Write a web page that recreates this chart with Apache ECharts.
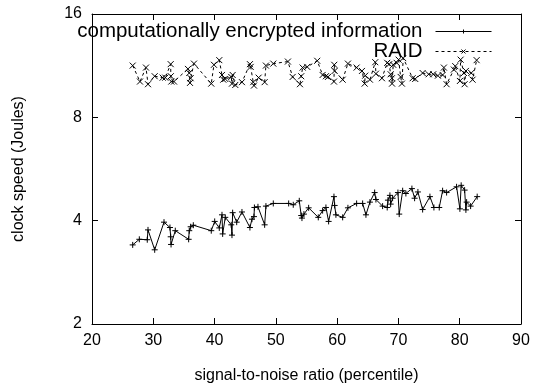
<!DOCTYPE html>
<html>
<head>
<meta charset="utf-8">
<script src="https://cdn.jsdelivr.net/npm/echarts@6/dist/echarts.min.js"></script>
<style>
  html, body { margin: 0; padding: 0; background: #fff; }
  #chart { width: 536px; height: 389px; }
</style>
</head>
<body>
<div id="chart"></div>
<script>
// series names
const seriesNames = ["computationally encrypted information", "RAID"];

// computationally encrypted information: [snr, clock speed]
const encrypted = [
  [26.64, 3.40], [27.72, 3.53], [29.02, 3.52], [29.14, 3.76], [30.23, 3.29], [31.75, 3.96],
  [32.72, 3.82], [32.84, 3.59], [32.9, 3.41], [33.59, 3.74], [35.77, 3.53], [35.87, 3.74],
  [36.10, 3.84], [36.53, 3.88], [39.46, 3.74], [40.02, 3.98], [40.77, 3.81], [41.21, 4.16],
  [41.32, 3.66], [41.75, 4.09], [42.72, 3.89], [42.84, 3.63], [42.95, 4.22], [43.61, 3.96],
  [44.47, 4.24], [45.77, 3.82], [46.10, 4.04], [46.43, 4.11], [46.5, 4.37], [47.08, 4.39],
  [48.17, 3.89], [48.38, 4.41], [49.58, 4.49], [52.09, 4.49], [52.84, 4.45], [53.82, 4.57],
  [54.14, 4.14], [54.26, 4.07], [54.58, 4.18], [55.35, 4.36], [56.92, 4.09], [57.63, 4.28],
  [58.17, 4.37], [58.61, 3.98], [59.48, 4.70], [59.59, 4.43], [59.80, 4.16], [60.90, 4.09],
  [61.76, 4.36], [63.18, 4.49], [64.16, 4.49], [64.70, 4.16], [65.35, 4.53], [66.12, 4.83],
  [66.33, 4.61], [67.42, 4.41], [68.17, 4.37], [68.29, 4.59], [68.61, 4.74], [68.73, 4.47],
  [69.05, 4.65], [69.92, 4.83], [70.13, 4.18], [70.69, 4.89], [71.22, 4.80], [72.20, 4.96],
  [72.64, 4.65], [73.18, 4.85], [73.95, 4.31], [75.14, 4.70], [75.79, 4.37], [76.66, 4.37],
  [77.21, 4.89], [77.86, 4.83], [79.49, 5.02], [80.03, 4.33], [80.24, 5.07], [80.80, 4.91],
  [81.01, 4.30], [81.13, 4.53], [81.78, 4.41], [82.85, 4.70]
];

// RAID: [snr, clock speed]
const raid = [
  [26.64, 11.32], [27.83, 10.17], [28.81, 11.17], [29.14, 9.99], [30.23, 10.54], [31.53, 10.44],
  [31.96, 10.44], [32.84, 11.43], [32.86, 10.54], [32.94, 10.17], [33.38, 10.17], [35.66, 11.07],
  [35.87, 10.77], [35.99, 10.08], [36.10, 10.40], [36.64, 11.47], [39.46, 10.03], [39.90, 11.38],
  [40.77, 11.74], [41.21, 10.63], [41.42, 10.30], [41.75, 10.35], [42.72, 10.49], [42.84, 10.03],
  [42.95, 10.63], [43.38, 9.94], [44.47, 10.13], [45.77, 11.43], [45.89, 11.22], [46.31, 10.13],
  [46.43, 9.90], [47.19, 10.44], [48.17, 10.13], [48.38, 11.32], [49.58, 11.47], [51.97, 11.63],
  [52.74, 10.49], [53.93, 9.99], [54.14, 10.54], [54.37, 11.17], [55.12, 11.22], [56.75, 11.69],
  [57.63, 10.63], [58.17, 10.54], [58.50, 10.49], [59.48, 10.17], [59.53, 11.38], [59.59, 10.92],
  [60.90, 10.30], [61.76, 11.47], [63.18, 11.17], [64.05, 10.92], [64.49, 10.03], [64.58, 10.58],
  [65.35, 10.30], [66.22, 11.58], [66.33, 10.72], [67.31, 10.40], [68.17, 11.53], [68.50, 11.43],
  [68.73, 10.68], [68.94, 10.40], [68.96, 10.03], [69.15, 11.38], [69.71, 11.53], [70.03, 11.78],
  [70.36, 10.49], [70.57, 10.03], [70.78, 11.90], [72.32, 10.40], [72.74, 10.35], [73.95, 10.77],
  [74.93, 10.68], [75.68, 10.68], [76.44, 10.58], [77.21, 10.63], [77.42, 11.17], [77.86, 9.99],
  [79.05, 11.02], [79.27, 11.28], [80.03, 10.21], [80.15, 11.78], [80.69, 10.77], [80.80, 9.99],
  [81.01, 10.92], [81.88, 10.77], [82.10, 10.30], [82.76, 11.74]
];

// axis ranges
const xMin = 20, xMax = 90, xStep = 10;
const yMin = 2, yMax = 16;

const FONT = "Liberation Sans, Arial, sans-serif";
const plusSymbol = "path://M0,5L10,5M5,0L5,10";
const crossSymbol = "path://M0,0L10,10M10,0L0,10";

const chart = echarts.init(document.getElementById("chart"));

const baseX = {
  type: "value",
  min: xMin,
  max: xMax,
  interval: xStep,
  splitLine: { show: false },
  axisLine: { onZero: false, lineStyle: { color: "#000", width: 1 } },
  axisTick: { inside: true, length: 6, lineStyle: { color: "#000" } },
};
const baseY = {
  type: "log",
  logBase: 2,
  min: yMin,
  max: yMax,
  splitLine: { show: false },
  axisLine: { lineStyle: { color: "#000", width: 1 } },
  axisTick: { inside: true, length: 6, lineStyle: { color: "#000" } },
};

const legendBase = {
  right: 39,
  align: "right",
  itemWidth: 56,
  itemHeight: 5,
  lineStyle: { width: 1, color: "#000" },
  itemStyle: { borderWidth: 1, borderColor: "#000" },
  textStyle: { fontFamily: FONT, fontSize: 20.5, color: "#000", padding: [0, 8, 0, 0] },
};

const option = {
  animation: false,
  backgroundColor: "#fff",
  textStyle: { fontFamily: FONT },
  grid: { left: 92, right: 15, top: 14, bottom: 65 },
  legend: [
    Object.assign({}, legendBase, { data: [seriesNames[0]], top: 16 }),
    Object.assign({}, legendBase, { data: [seriesNames[1]], top: 36 }),
  ],
  xAxis: [
    Object.assign({}, baseX, {
      position: "bottom",
      name: "signal-to-noise ratio (percentile)",
      nameLocation: "middle",
      nameGap: 44,
      nameTextStyle: { fontFamily: FONT, fontSize: 16, color: "#000" },
      axisLabel: { fontFamily: FONT, fontSize: 16, color: "#000", margin: 9 },
    }),
    Object.assign({}, baseX, { position: "top", axisLabel: { show: false } }),
  ],
  yAxis: [
    Object.assign({}, baseY, {
      position: "left",
      name: "clock speed (Joules)",
      nameLocation: "middle",
      nameGap: 65,
      nameTextStyle: { fontFamily: FONT, fontSize: 16, color: "#000" },
      axisLabel: { fontFamily: FONT, fontSize: 16, color: "#000", margin: 10 },
    }),
    Object.assign({}, baseY, { position: "right", axisLabel: { show: false } }),
  ],
  series: [
    {
      name: seriesNames[0],
      type: "line",
      data: encrypted,
      symbol: plusSymbol,
      symbolSize: 6,
      showSymbol: true,
      lineStyle: { color: "#000", width: 1 },
      itemStyle: { color: "#000", borderColor: "#000", borderWidth: 1 },
    },
    {
      name: seriesNames[1],
      type: "line",
      data: raid,
      symbol: crossSymbol,
      symbolSize: 6,
      showSymbol: true,
      lineStyle: { color: "#000", width: 1, type: [3, 3] },
      itemStyle: { color: "#000", borderColor: "#000", borderWidth: 1 },
    },
  ],
};

chart.setOption(option);
</script>
</body>
</html>
